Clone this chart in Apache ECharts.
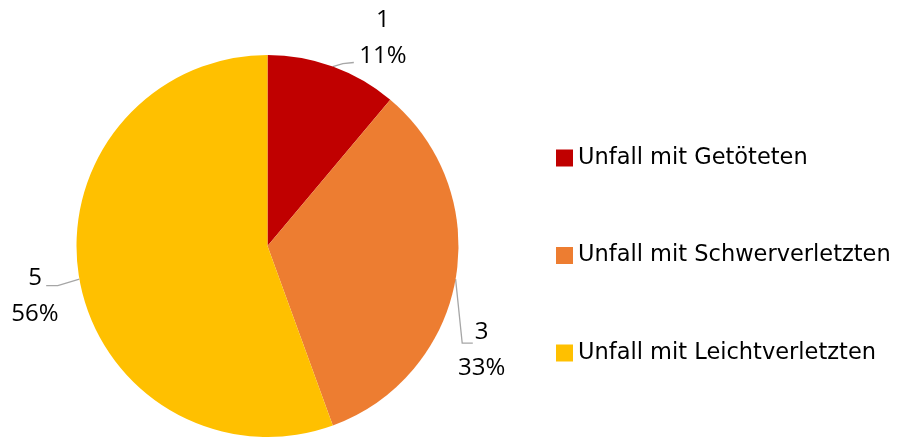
<!DOCTYPE html>
<html><head><meta charset="utf-8">
<script src="https://cdn.jsdelivr.net/npm/echarts@6/dist/echarts.min.js"></script>
<style>html,body{margin:0;padding:0;background:#fff}#c{width:906px;height:437px}</style>
</head><body><div id="c"></div>
<script>
const categories = ['Unfall mit Getöteten', 'Unfall mit Schwerverletzten', 'Unfall mit Leichtverletzten'];
const values = [1, 3, 5];
const colors = ['#C00000', '#ED7D31', '#FFC000'];

// label placement relative to slice anchor point (offsets only)
const labelOffsets = [
  { c: [50, -28], l1: [10, -3], l2: [21, -4] },
  { c: [26, 71], l1: [6.6, 64], l2: [17.2, 64] },
  { c: [-44.4, 17], l1: [-21.6, 6.5], l2: [-33.2, 6.5] }
];

const LABEL_FONT = 'Open Sans';
const LEGEND_FONT = 'DejaVu Sans';
const chart = echarts.init(document.getElementById('c'), null, { renderer: 'canvas' });
chart.setOption({
  animation: false,
  backgroundColor: '#fff',
  legend: {
    orient: 'vertical',
    left: 556,
    top: 146,
    padding: 0,
    itemWidth: 17,
    itemHeight: 17,
    itemGap: 73.5,
    icon: 'rect',
    textStyle: { fontFamily: LEGEND_FONT, fontSize: 22.5, color: '#000', lineHeight: 24 },
    data: categories
  },
  series: [{
    type: 'pie',
    center: [267.5, 246],
    radius: 191,
    startAngle: 90,
    clockwise: true,
    data: categories.map((n, i) => ({ name: n, value: values[i], itemStyle: { color: colors[i] } })),
    label: {
      show: true,
      position: 'outside',
      fontFamily: LABEL_FONT,
      fontSize: 24,
      lineHeight: 36,
      width: 90,
      color: '#000',
      formatter: p => p.value + '\n' + Math.round(p.percent) + '%'
    },
    labelLine: { show: true, length: 10, length2: 10, lineStyle: { color: '#A6A6A6', width: 1.3 } },
    labelLayout: function (params) {
      const o = labelOffsets[params.dataIndex];
      const p0 = params.labelLinePoints[0];
      return {
        x: p0[0] + o.c[0],
        y: p0[1] + o.c[1],
        align: 'center',
        verticalAlign: 'middle',
        labelLinePoints: [
          [p0[0], p0[1]],
          [p0[0] + o.l1[0], p0[1] + o.l1[1]],
          [p0[0] + o.l2[0], p0[1] + o.l2[1]]
        ]
      };
    },
    emphasis: { disabled: true }
  }]
});
</script></body></html>
